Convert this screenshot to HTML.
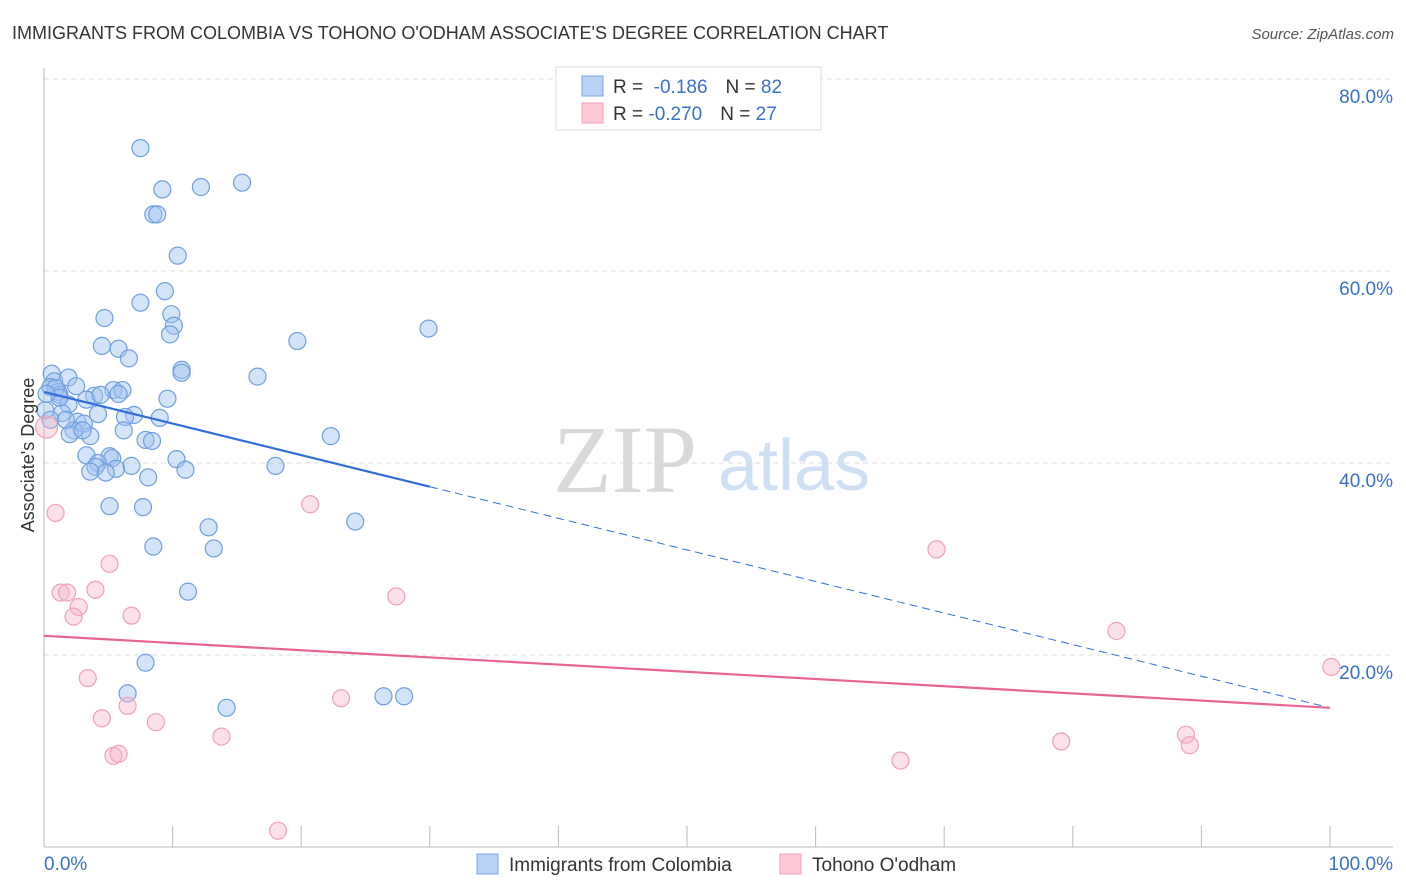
<!DOCTYPE html>
<html><head><meta charset="utf-8"><style>
body{margin:0;background:#fff;font-family:"Liberation Sans",sans-serif;}
svg{display:block}
</style></head><body>
<svg id="chart" width="1406" height="892" xmlns="http://www.w3.org/2000/svg">
<text x="12" y="39" font-size="18" fill="#333">IMMIGRANTS FROM COLOMBIA VS TOHONO O'ODHAM ASSOCIATE'S DEGREE CORRELATION CHART</text>
<text x="1394" y="39" font-size="15" fill="#555" text-anchor="end" font-style="italic">Source: ZipAtlas.com</text>
<g>
<text x="553" y="492" font-size="96" font-family="Liberation Serif,serif" fill="#d9d9d9">ZIP</text>
<text x="718" y="490" font-size="72" fill="#cfe0f5">atlas</text>
</g>
<g id="grid"></g>
<g id="axes"></g>
<g id="marks"></g>
<text transform="translate(34,455) rotate(-90)" font-size="18" fill="#333" text-anchor="middle">Associate's Degree</text>
<g>
<rect x="556" y="67" width="265" height="63" fill="#fff" stroke="#ddd"/>
<rect x="582" y="76" width="21" height="20" fill="#b8d2f5" stroke="#7aa7e6"/>
<rect x="582" y="103" width="21" height="20" fill="#fcc8d6" stroke="#f0a0b8"/>
<text x="613" y="93" font-size="19" fill="#333">R = <tspan fill="#3a70c8">&#160;-0.186</tspan><tspan dx="18">N = </tspan><tspan fill="#3a70c8">82</tspan></text>
<text x="613" y="120" font-size="19" fill="#333">R = <tspan fill="#3a70c8">-0.270</tspan><tspan dx="18">N = </tspan><tspan fill="#3a70c8">27</tspan></text>
</g>
<g>
<rect x="477" y="854" width="21" height="20" fill="#b8d2f5" stroke="#7aa7e6"/>
<text x="509" y="871" font-size="19" fill="#333">Immigrants from Colombia</text>
<rect x="780" y="854" width="21" height="20" fill="#fcc8d6" stroke="#f0a0b8"/>
<text x="812" y="871" font-size="19" fill="#333">Tohono O'odham</text>
</g>
</svg>
<script>
const yTicks=[20,40,60,80];
const yTickLabels=["20.0%","40.0%","60.0%","80.0%"];
const xTicks=[10,20,30,40,50,60,70,80,90,100];
const blueX=[7.5,15.4,12.2,9.2,8.5,8.8,10.4,9.4,7.5,9.9,4.7,10.1,9.8,29.9,19.7,4.5,5.8,6.6,10.7,10.7,16.6,0.6,0.8,1.9,0.5,1.1,2.5,1.2,5.4,6.1,3.9,5.8,9.6,3.3,1.9,4.2,1.4,7.0,9.0,6.3,2.6,3.1,2.3,2.0,3.6,6.2,7.9,8.4,22.3,3.3,5.1,5.3,10.3,4.2,4.0,18.0,6.8,5.6,3.6,4.8,11.0,8.1,5.1,7.7,24.2,12.8,8.5,13.2,11.2,7.9,6.5,26.4,28.0,14.2,0.1,0.5,0.9,1.2,3.0,1.7,4.4,0.2];
const blueY=[72.8,69.2,68.75,68.5,65.9,65.9,61.6,57.9,56.7,55.5,55.1,54.3,53.4,54.0,52.7,52.2,51.9,50.9,49.7,49.4,49.0,49.3,48.5,48.9,47.9,47.4,48.0,47.1,47.6,47.6,47.0,47.2,46.7,46.6,46.1,45.1,45.2,45.0,44.7,44.8,44.3,44.1,43.4,43.0,42.8,43.4,42.4,42.3,42.8,40.8,40.7,40.5,40.4,40.0,39.6,39.7,39.7,39.4,39.1,39.0,39.3,38.5,35.5,35.4,33.9,33.3,31.3,31.1,26.6,19.2,16.0,15.7,15.7,14.5,45.5,44.5,47.8,46.8,43.4,44.5,47.1,47.2];
const pinkX=[0.9,20.7,1.3,1.8,4.0,5.1,2.7,2.3,6.8,69.4,27.4,3.4,6.5,4.5,8.7,23.1,13.8,5.4,5.8,18.2,66.6,79.1,83.4,88.8,89.1,100.1,0.2];
const pinkY=[34.8,35.7,26.5,26.5,26.8,29.5,25.0,24.0,24.1,31.0,26.1,17.6,14.7,13.4,13.0,15.5,11.5,9.5,9.7,1.7,9.0,11.0,22.5,11.7,10.6,18.75,43.75];
const blueTrend=[47.4,14.5];
const blueSolidEnd=30;
const pinkTrend=[22.0,14.5];
const NS="http://www.w3.org/2000/svg";
const sx=v=>44+v*12.86, sy=v=>847-v*9.6;
function mk(tag,attrs,parent){const e=document.createElementNS(NS,tag);for(const k in attrs)e.setAttribute(k,attrs[k]);document.getElementById(parent).appendChild(e);return e;}
yTicks.forEach((t,i)=>{
 const g=mk('line',{x1:44,x2:1393,y1:sy(t),y2:sy(t),stroke:'#ddd','stroke-dasharray':'5,4'},'grid');
 
 
 const l=mk('text',{x:1393,y:sy(t)+24,'font-size':19,fill:'#3a70c8','text-anchor':'end'},'grid');
 l.textContent=yTickLabels[i];
 
 
});
const ax=mk('line',{x1:44,x2:44,y1:68,y2:847,stroke:'#bbb'},'axes');


const bx=mk('line',{x1:44,x2:1393,y1:847,y2:847,stroke:'#bbb'},'axes');


xTicks.forEach(t=>{
 const k=mk('line',{x1:sx(t),x2:sx(t),y1:826,y2:847,stroke:'#bbb'},'axes');
 
 
});
const x0=mk('text',{x:44,y:870,'font-size':19,fill:'#3a70c8'},'axes');x0.textContent='0.0%';


const x1=mk('text',{x:1393,y:870,'font-size':19,fill:'#3a70c8','text-anchor':'end'},'axes');x1.textContent='100.0%';


blueX.forEach((x,i)=>{
 const c=mk('circle',{cx:sx(x),cy:sy(blueY[i]),r:8.5,fill:'rgba(160,196,240,0.45)',stroke:'#6f9fe0','stroke-width':1.2},'marks');
 
 
});
pinkX.forEach((x,i)=>{
 const c=mk('circle',{cx:sx(x),cy:sy(pinkY[i]),r:i==pinkX.length-1?11:8.5,fill:'rgba(248,180,200,0.4)',stroke:'#f0a0b8','stroke-width':1.2},'marks');
 
 
});
const bt=v=>blueTrend[0]+(blueTrend[1]-blueTrend[0])*v/100;
const l1=mk('line',{x1:sx(0),y1:sy(bt(0)),x2:sx(blueSolidEnd),y2:sy(bt(blueSolidEnd)),stroke:'#2f6fd6','stroke-width':2.2},'marks');


const l2=mk('line',{x1:sx(blueSolidEnd),y1:sy(bt(blueSolidEnd)),x2:sx(100),y2:sy(bt(100)),stroke:'#2f6fd6','stroke-width':1,'stroke-dasharray':'8,5'},'marks');


const l3=mk('line',{x1:sx(0),y1:sy(pinkTrend[0]),x2:sx(100),y2:sy(pinkTrend[1]),stroke:'#e8638f','stroke-width':2.2},'marks');


</script>
</body></html>
